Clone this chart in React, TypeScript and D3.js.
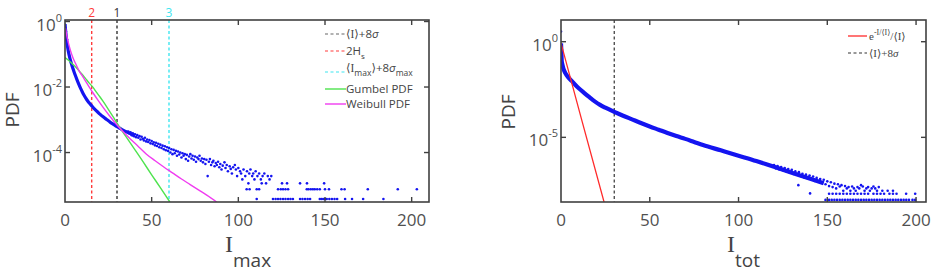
import React from "react";
import * as d3 from "d3";

// ---------- Data (values as log10 of PDF) ----------
const leftXTicks = [0, 50, 100, 150, 200];
const leftYTicks = [0, -2, -4];
const rightXTicks = [0, 50, 100, 150, 200];
const rightYTicks = [0, -5];

// vertical markers in left panel
const markerX = [30, 15.4, 60];
const markerLabels = ["1", "2", "3"];
const markerColors = ["#333333", "#ff3b3b", "#3fe6f0"];

// dense part of left histogram
const leftBand: [number, number][] = [
  [0, -0.08], [0.3, -0.25], [0.6, -0.42], [1, -0.6], [1.5, -0.78], [2, -0.93], [2.5, -1.05], [3, -1.16],
  [4, -1.34], [5, -1.5], [6, -1.65], [7, -1.79], [8, -1.92], [9, -2.04], [10, -2.15], [11, -2.25],
  [12, -2.34], [13, -2.42], [14, -2.49], [15, -2.55], [16, -2.61], [17, -2.67], [18, -2.72], [19, -2.77],
  [20, -2.82], [22, -2.91], [24, -2.99], [26, -3.07], [28, -3.14], [30, -3.21], [32, -3.27], [34, -3.33],
  [36, -3.38], [38, -3.43], [40, -3.48],
];

// scattered tail of left histogram
const leftTail: [number, number][] = [
  [0, -0.1], [0.5, -0.3], [1.2, -0.55], [36.5, -3.36], [37.2, -3.42], [37.8, -3.38], [38.5, -3.47], [39.1, -3.41],
  [39.8, -3.5], [40.4, -3.44], [41, -3.53], [41.7, -3.47], [42.3, -3.55], [43, -3.5], [43.6, -3.6], [44.2, -3.52],
  [44.9, -3.58], [45.5, -3.63], [46.1, -3.55], [46.8, -3.66], [47.4, -3.6], [48, -3.68], [48.7, -3.62],
  [49.3, -3.72], [50, -3.65], [50.6, -3.74], [51.2, -3.69], [51.9, -3.78], [52.5, -3.7], [53.1, -3.8],
  [53.8, -3.73], [54.4, -3.84], [55, -3.76], [55.7, -3.86], [56.3, -3.79], [57, -3.9], [57.6, -3.81],
  [58.2, -3.93], [58.9, -3.84], [59.5, -3.95], [60.1, -3.86], [60.8, -4.0], [61.4, -3.9], [62, -4.05],
  [62.7, -3.92], [63.3, -4.02], [64, -3.95], [64.6, -4.1], [65.2, -3.97], [65.9, -4.06], [66.5, -4.0],
  [67.2, -4.15], [67.8, -4.02], [68.4, -4.1], [69.1, -4.05], [69.7, -4.2], [70.3, -4.07], [71, -4.25],
  [71.6, -4.12], [72.3, -4.05], [73, -4.18], [73.6, -4.1], [74.3, -4.22], [75, -4.12], [75.6, -4.28],
  [76.3, -4.15], [77, -4.2], [77.6, -4.1], [78.3, -4.25], [79, -4.18], [79.6, -4.3], [80.3, -4.2],
  [81, -4.35], [81.6, -4.22], [82.3, -4.72], [83, -4.28], [83.6, -4.2], [84.3, -4.38], [85, -4.3],
  [85.6, -4.25], [86.3, -4.42], [87, -4.32], [87.6, -4.38], [88.3, -4.28], [89, -4.45], [89.6, -4.35],
  [90.3, -4.52], [91, -4.4], [92, -4.3], [92.6, -4.47], [93.3, -4.38], [94, -4.57], [95, -4.42],
  [95.6, -4.5], [96.3, -4.64], [97, -4.45], [98, -4.38], [98.6, -4.52], [99.3, -4.72], [100, -4.47],
  [101, -4.57], [101.6, -4.64], [102.3, -4.82], [103, -4.52], [104, -4.72], [105, -4.57], [105.8, -4.94],
  [106.3, -4.64], [107, -4.52], [108, -4.72], [108.6, -4.64], [109.3, -4.82], [110, -4.57], [111, -4.72],
  [112, -4.64], [113, -4.82], [113.5, -4.94], [114, -4.72], [115, -4.64], [116, -4.94], [117, -4.72],
  [118, -4.82], [119, -4.72], [125.2, -4.94], [128.1, -4.94], [135.6, -4.94], [139.6, -4.94], [149.5, -4.94],
  // count = 2 row
  [104.8, -5.12], [106.5, -5.12], [110.6, -5.12], [112, -5.12], [122.9, -5.12], [124.5, -5.12],
  [125.8, -5.12], [127.2, -5.12], [128.7, -5.12], [139.5, -5.12], [140.5, -5.12], [141.8, -5.12],
  [143, -5.12], [144.1, -5.12], [145.5, -5.12], [147, -5.12], [150, -5.12], [152.3, -5.12],
  [159.5, -5.12], [161.3, -5.12], [174.7, -5.12], [192, -5.12], [203, -5.12],
  // count = 1 row
  [110.6, -5.42], [120, -5.42], [121.5, -5.42], [122.9, -5.42], [124.3, -5.42], [125.8, -5.42],
  [127.2, -5.42], [128.7, -5.42], [130.1, -5.42], [131.5, -5.42], [135.6, -5.42], [137, -5.42],
  [138.5, -5.42], [140, -5.42], [141.4, -5.42], [147, -5.42], [148, -5.42], [149, -5.42], [150, -5.42],
  [151, -5.42], [152.5, -5.42], [154, -5.42], [155.5, -5.42], [157, -5.42], [161.6, -5.42],
  [165.6, -5.42], [172, -5.42], [183.7, -5.42],
];

const gumbel: [number, number][] = [
  [0, -1.1], [2, -1.18], [4, -1.28], [6, -1.38], [8, -1.5], [10, -1.62], [12, -1.75], [14, -1.88],
  [16.3, -2.02], [18, -2.15], [20, -2.29], [22, -2.44], [25, -2.68], [28, -2.93], [30, -3.1], [35, -3.5],
  [40, -3.89], [45, -4.28], [50, -4.68], [55, -5.07], [60.5, -5.51],
];

const weibull: [number, number][] = [
  [0.3, -0.2], [1, -0.42], [2, -0.66], [3, -0.86], [4, -1.02], [5, -1.16], [6.7, -1.35], [8, -1.5],
  [10, -1.66], [11.5, -1.79], [14, -2.0], [16.3, -2.19], [19, -2.4], [22, -2.62], [26, -2.9], [30, -3.16],
  [34, -3.39], [38, -3.6], [42, -3.8], [47, -4.05], [52, -4.25], [57, -4.44], [62, -4.62], [67, -4.8],
  [72, -4.97], [77, -5.14], [82, -5.31], [87.5, -5.51],
];

// right panel
const rightBand: [number, number][] = [
  [0, -0.09], [0.2, -0.5], [0.4, -1.0], [0.8, -1.2], [1.5, -1.45], [2.5, -1.65], [4, -1.85], [6, -2.05],
  [8, -2.25], [10, -2.43], [13, -2.67], [16, -2.9], [19, -3.12], [22, -3.3], [25, -3.45], [30, -3.67],
  [35, -3.87], [40, -4.06], [45, -4.25], [50, -4.43], [55, -4.6], [60, -4.77], [65, -4.93], [70, -5.08],
  [75, -5.24], [80, -5.4], [90, -5.68], [100, -5.96], [110, -6.24], [120, -6.54], [130, -6.85],
  [140, -7.15], [148, -7.4],
];

const rightTail: [number, number][] = [
  [0, 0.53], [120, -6.45], [121, -6.62], [122, -6.5], [123, -6.68], [124, -6.55], [125, -6.72], [126, -6.6],
  [127, -6.78], [128, -6.66], [129, -6.85], [130, -6.7], [131, -6.92], [132, -6.78], [133, -6.95],
  [133.7, -7.5], [134, -6.82], [135, -7.02], [136, -6.9], [137, -7.1], [138, -6.95], [139, -7.15],
  [140, -7.0], [140.3, -7.93], [141, -7.2], [142, -7.05], [143, -7.28], [144, -7.12], [145, -7.3],
  [146, -7.18], [147, -7.38], [148, -7.22], [149, -7.45], [150, -7.3], [151, -7.55], [152, -7.35],
  [153, -7.6], [154, -7.42], [155, -7.67], [156, -7.45], [157, -7.57], [158, -7.5], [159, -7.79],
  [160, -7.55], [161, -7.67], [162, -7.6], [163, -7.79], [164, -7.57], [165, -7.67], [166, -7.79],
  [167, -7.6], [168, -7.67], [169, -7.5], [170, -7.57], [171, -7.79], [172, -7.67], [173, -7.6],
  [174, -7.79], [175, -7.67], [176, -7.57], [177, -7.67], [178, -7.79], [179, -7.6], [181, -7.79],
  [184, -7.79], [187, -7.79],
  // count = 2 row
  [151, -7.95], [153, -7.95], [155, -7.95], [157, -7.95], [159, -7.95], [161, -7.95], [163, -7.95],
  [165, -7.95], [167, -7.95], [169, -7.95], [171, -7.95], [173, -7.95], [176, -7.95], [178, -7.95],
  [180, -7.95], [182, -7.95], [185, -7.95], [187, -7.95], [189, -7.95], [194.4, -7.95], [199.5, -7.95],
  // count = 1 row
  [149, -8.27], [151, -8.27], [152.5, -8.27], [154, -8.27], [155.5, -8.27], [157, -8.27], [158.5, -8.27],
  [160, -8.27], [161.5, -8.27], [163, -8.27], [164.5, -8.27], [166, -8.27], [167.5, -8.27], [169, -8.27],
  [170.5, -8.27], [172, -8.27], [173.5, -8.27], [175, -8.27], [176.5, -8.27], [178, -8.27], [179.5, -8.27],
  [181, -8.27], [182.5, -8.27], [184, -8.27], [185.5, -8.27], [187, -8.27], [188.5, -8.27], [190, -8.27],
  [191.5, -8.27], [193, -8.27], [194.5, -8.27], [196, -8.27], [198, -8.27], [199.5, -8.27],
];

const expLine: [number, number][] = [[0, -0.07], [12, -4.2], [24.4, -8.43]];
const rightMarkerX = 30;

// ---------- Layout ----------
const SANS = "'Open Sans', 'DejaVu Sans', sans-serif";
const SERIF = "'Liberation Serif', 'DejaVu Serif', serif";
const AXIS = "#404040";
const TXT = "#505050";
const BLUE = "#1414f0";

const L = { x0: 65, x1: 429, y0: 20, y1: 202 };
const R = { x0: 561, x1: 926, y0: 20, y1: 202 };

const xL = d3.scaleLinear().domain([0, 210]).range([L.x0, L.x1]);
const yL = d3.scaleLog().domain([Math.pow(10, -5.51), Math.pow(10, 0.046)]).range([L.y1, L.y0]);
const xR = d3.scaleLinear().domain([0, 205.6]).range([R.x0, R.x1]);
const yR = d3.scaleLog().domain([Math.pow(10, -8.38), Math.pow(10, 1.135)]).range([R.y1, R.y0]);

const p10 = (v: number) => Math.pow(10, v);

function Frame({ box, xs, ys, xScale, yScale, id }: any) {
  const t = 5;
  return (
    <g>
      <rect x={box.x0} y={box.y0} width={box.x1 - box.x0} height={box.y1 - box.y0} fill="none" stroke={AXIS} strokeWidth={1.6} />
      {xs.filter((v: number) => v > 0).map((v: number) => (
        <g key={`xt${id}${v}`}>
          <line x1={xScale(v)} x2={xScale(v)} y1={box.y1} y2={box.y1 - t} stroke={AXIS} strokeWidth={1.4} />
          <line x1={xScale(v)} x2={xScale(v)} y1={box.y0} y2={box.y0 + t} stroke={AXIS} strokeWidth={1.4} />
        </g>
      ))}
      {ys.map((v: number) => (
        <g key={`yt${id}${v}`}>
          <line x1={box.x0} x2={box.x0 + t} y1={yScale(p10(v))} y2={yScale(p10(v))} stroke={AXIS} strokeWidth={1.4} />
          <line x1={box.x1} x2={box.x1 - t} y1={yScale(p10(v))} y2={yScale(p10(v))} stroke={AXIS} strokeWidth={1.4} />
        </g>
      ))}
      {xs.map((v: number) => (
        <text key={`xl${id}${v}`} x={xScale(v)} y={226} textAnchor="middle" fontFamily={SANS} fontSize={17} fill={TXT}>
          {v}
        </text>
      ))}
      {ys.map((v: number) => (
        <text key={`yl${id}${v}`} x={box.x0 - 3} y={yScale(p10(v)) + 9} textAnchor="end" fontFamily={SANS} fontSize={17} fill={TXT}>
          10<tspan dy={-9} fontSize={11}>{String(v)}</tspan>
        </text>
      ))}
    </g>
  );
}

export default function App() {
  const lineL = d3.line<[number, number]>().x((d) => xL(d[0])).y((d) => yL(p10(d[1]))).curve(d3.curveMonotoneX);
  const lineR = d3.line<[number, number]>().x((d) => xR(d[0])).y((d) => yR(p10(d[1]))).curve(d3.curveMonotoneX);
  const lineRs = d3.line<[number, number]>().x((d) => xR(d[0])).y((d) => yR(p10(d[1])));

  return (
    <svg width={944} height={272} style={{ position: "absolute", left: 0, top: 0, background: "#fff" }}>
      <defs>
        <clipPath id="clipL"><rect x={L.x0} y={L.y0} width={L.x1 - L.x0} height={L.y1 - L.y0} /></clipPath>
        <clipPath id="clipR"><rect x={R.x0} y={R.y0} width={R.x1 - R.x0} height={R.y1 - R.y0} /></clipPath>
      </defs>

      {/* ---------------- Left panel ---------------- */}
      <g clipPath="url(#clipL)">
        {markerX.map((v, i) => (
          <line key={`m${i}`} x1={xL(v)} x2={xL(v)} y1={L.y0} y2={L.y1} stroke={markerColors[i]} strokeWidth={1.4} strokeDasharray="3,2.5" />
        ))}
        <path d={lineL(leftBand) || ""} fill="none" stroke={BLUE} strokeWidth={3.2} />
        {leftTail.map((d, i) => (
          <circle key={`lt${i}`} cx={xL(d[0])} cy={yL(p10(d[1]))} r={1.3} fill={BLUE} />
        ))}
        <path d={lineL(gumbel) || ""} fill="none" stroke="#4ee34e" strokeWidth={1.4} />
        <path d={lineL(weibull) || ""} fill="none" stroke="#f03cf0" strokeWidth={1.4} />
      </g>
      <Frame box={L} xs={leftXTicks} ys={leftYTicks} xScale={xL} yScale={yL} id="L" />
      {markerX.map((v, i) => (
        <text key={`ml${i}`} x={xL(v)} y={17} textAnchor="middle" fontFamily={SANS} fontSize={12} fill={markerColors[i]}>
          {markerLabels[i]}
        </text>
      ))}
      {/* left legend */}
      <g fontFamily={SANS} fontSize={11.5} fill="#444">
        <line x1={325} x2={345} y1={34} y2={34} stroke="#666" strokeWidth={1.2} strokeDasharray="3,2.5" />
        <text x={346} y={38}>⟨<tspan fontFamily={SERIF}>I</tspan>⟩+8<tspan fontStyle="italic">σ</tspan></text>
        <line x1={325} x2={345} y1={51} y2={51} stroke="#ff3b3b" strokeWidth={1.2} strokeDasharray="3,2.5" />
        <text x={346} y={55}>2H<tspan dy={4} fontSize={8}>s</tspan></text>
        <line x1={325} x2={345} y1={72} y2={72} stroke="#3fe6f0" strokeWidth={1.2} strokeDasharray="3,2.5" />
        <text x={346} y={72}>⟨<tspan fontFamily={SERIF}>I</tspan><tspan dy={4} fontSize={8.5}>max</tspan><tspan dy={-4}>⟩+8</tspan><tspan fontStyle="italic">σ</tspan><tspan dy={4} fontSize={8.5}>max</tspan></text>
        <line x1={325} x2={346} y1={89} y2={89} stroke="#4ee34e" strokeWidth={1.4} />
        <text x={346} y={93}>Gumbel PDF</text>
        <line x1={325} x2={346} y1={104} y2={104} stroke="#f03cf0" strokeWidth={1.4} />
        <text x={346} y={108}>Weibull PDF</text>
      </g>
      <text transform="translate(19,110) rotate(-90)" textAnchor="middle" fontFamily={SANS} fontSize={19} fill="#444">PDF</text>
      <text x={225} y={252} fontFamily={SERIF} fontSize={24} fill="#444">I</text>
      <text x={233} y={267} fontFamily={SANS} fontSize={19} fill="#444">max</text>

      {/* ---------------- Right panel ---------------- */}
      <g clipPath="url(#clipR)">
        <line x1={xR(rightMarkerX)} x2={xR(rightMarkerX)} y1={R.y0} y2={R.y1} stroke="#444" strokeWidth={1.3} strokeDasharray="3,2.5" />
        <path d={lineR(rightBand) || ""} fill="none" stroke={BLUE} strokeWidth={4.2} />
        {rightTail.map((d, i) => (
          <circle key={`rt${i}`} cx={xR(d[0])} cy={yR(p10(d[1]))} r={1.3} fill={BLUE} />
        ))}
        <path d={lineRs(expLine) || ""} fill="none" stroke="#ff2a2a" strokeWidth={1.3} />
      </g>
      <Frame box={R} xs={rightXTicks} ys={rightYTicks} xScale={xR} yScale={yR} id="R" />
      <g fontFamily={SERIF} fontSize={11} fill="#444">
        <line x1={848} x2={867} y1={36} y2={36} stroke="#ff2a2a" strokeWidth={1.3} />
        <text x={869} y={40}>e<tspan dy={-5} fontSize={8}>-I/⟨I⟩</tspan><tspan dy={5}>/⟨I⟩</tspan></text>
        <line x1={848} x2={867} y1={53} y2={53} stroke="#333" strokeWidth={1.2} strokeDasharray="3,2.5" />
        <text x={869} y={57}>⟨I⟩+8<tspan fontStyle="italic">σ</tspan></text>
      </g>
      <text transform="translate(515,112) rotate(-90)" textAnchor="middle" fontFamily={SANS} fontSize={19} fill="#444">PDF</text>
      <text x={727} y={252} fontFamily={SERIF} fontSize={24} fill="#444">I</text>
      <text x={735} y={267} fontFamily={SANS} fontSize={19} fill="#444">tot</text>
    </svg>
  );
}
